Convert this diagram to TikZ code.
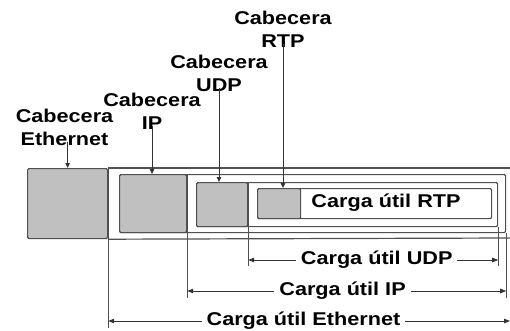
\documentclass[tikz,border=0pt]{standalone}
\usepackage{fontspec}
\newfontfamily\lab{Liberation Sans}[FakeStretch=1.17]
\usetikzlibrary{arrows.meta}
\definecolor{lc}{HTML}{505050}
\definecolor{hg}{HTML}{C0C0C0}
\begin{document}
\begin{tikzpicture}[x=1pt,y=-1pt,
  txt/.style={font=\lab\bfseries\fontsize{18.5}{23}\selectfont, text=black},
  frame/.style={draw=lc, line width=1.2pt, rounded corners=1.2pt, inner sep=0pt, anchor=north west},
  hdrbox/.style={frame, fill=hg},
  lbl/.style={txt, align=center, inner sep=0pt, anchor=south},
  ln/.style={draw=lc, line width=1.2pt},
  ptr/.style={draw=black!80, line width=0.9pt, -{Triangle[length=5pt,width=4.5pt]}},
  dim/.style={draw=black!80, line width=0.9pt, {Triangle[length=6pt,width=4.5pt]}-{Triangle[length=6pt,width=4.5pt]}},
  dimtxt/.style={txt, fill=white, inner xsep=5pt, inner ysep=1pt}
]
\useasboundingbox (0,0) rectangle (510,331);
% level coordinates
\coordinate (yudp) at (0,260);
\coordinate (yip) at (0,291);
\coordinate (yeth) at (0,321);
\coordinate (xudp) at (0,266);
\coordinate (xip) at (0,298);
\coordinate (xeth) at (0,328);
\coordinate (ethtop) at (512,168);
\coordinate (ethbot) at (512,238);
\coordinate (ethr) at (510,321);
% frames
\node[frame, minimum width=386pt, minimum height=58pt] (ipf) at (119,174) {};
\node[frame, minimum width=301pt, minimum height=44pt] (udpf) at (196,182) {};
\node[frame, minimum width=234pt, minimum height=30pt] (rtpf) at (257,188) {};
% headers
\node[hdrbox, minimum width=80pt, minimum height=70pt] (eh) at (27,168) {};
\node[hdrbox, minimum width=67pt, minimum height=58pt] (iph) at (119,174) {};
\node[hdrbox, minimum width=51pt, minimum height=44pt] (udph) at (196,182) {};
\node[hdrbox, minimum width=43pt, minimum height=30pt] (rtph) at (257,188) {};
% ethernet frame (open to the right)
\draw[ln] (eh.north east) -- (ethtop);
\draw[ln] (eh.south east) -- (ethbot);
% RTP payload text
\node[txt, anchor=base, inner sep=0pt] (rtpp) at (386,207) {Carga útil RTP};
% header labels
\node[lbl] (le) at (64.5,146) {Cabecera\\Ethernet};
\node[lbl] (li) at (152,130) {Cabecera\\IP};
\node[lbl] (lu) at (219,92) {Cabecera\\UDP};
\node[lbl] (lr) at (283,48) {Cabecera\\RTP};
\draw[ptr] ([yshift=4pt]eh.north |- le.south) -- (eh.north);
\draw[ptr] ([yshift=4pt]li.south) -- (li.south |- iph.north);
\draw[ptr] ([yshift=4pt]lu.south) -- (lu.south |- udph.north);
\draw[ptr] ([yshift=4pt]lr.south) -- (lr.south |- rtph.north);
% extension lines
\draw[ln] (eh.north east) -- (eh.north east |- xeth);
\draw[ln] (iph.north east) -- (iph.north east |- xip);
\draw[ln] (udph.north east) -- (udph.north east |- xudp);
\draw[ln] (udpf.south east) -- (udpf.south east |- xudp);
\draw[ln] (ipf.south east) -- (ipf.south east |- xip);
% dimension lines
\draw[dim] (udph.east |- yudp) -- node[dimtxt, pos=0.514] (du) {Carga útil UDP} (udpf.east |- yudp);
\draw[dim] (iph.east |- yip) -- node[dimtxt, pos=0.487] (di) {Carga útil IP} (ipf.east |- yip);
\draw[dim] (eh.east |- yeth) -- node[dimtxt, pos=0.486] (de) {Carga útil Ethernet} (ethr);
\end{tikzpicture}
\end{document}
